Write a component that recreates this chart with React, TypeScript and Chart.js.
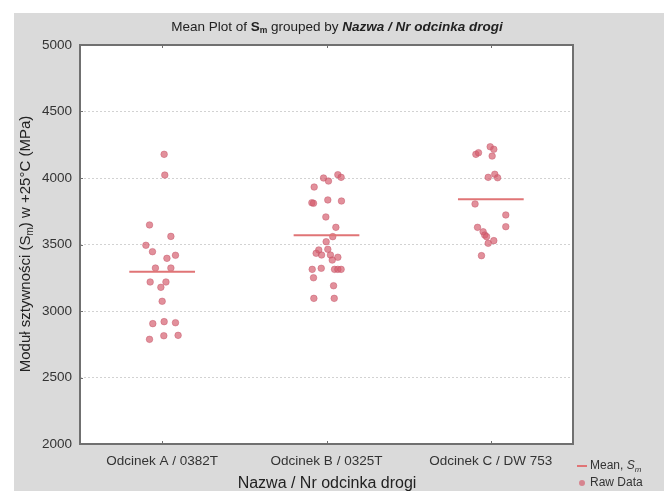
import { useEffect, useRef } from "react";
import { Chart, registerables } from "chart.js";

Chart.register(...registerables);

const categories = ["Odcinek A / 0382T", "Odcinek B / 0325T", "Odcinek C / DW 753"];
const yTickValues = [2000, 2500, 3000, 3500, 4000, 4500, 5000];
const meanValues = [3295, 3570, 3840];

const rawA = [4178, 4022, 3647, 3561, 3494, 3446, 3419, 3396, 3323, 3323, 3218, 3218, 3178, 3073, 2905, 2920, 2912, 2787, 2814, 2817];
const jitterA = [0.012, 0.016, -0.077, 0.053, -0.099, -0.059, 0.081, 0.029, -0.041, 0.053, -0.073, 0.023, -0.008, 0, -0.057, 0.012, 0.081, -0.077, 0.01, 0.097];

const rawB = [4000, 3977, 4025, 4005, 3932, 3814, 3810, 3835, 3827, 3707, 3629, 3559, 3521, 3459, 3434, 3421, 3464, 3421, 3383, 3404, 3313, 3321, 3313, 3313, 3313, 3250, 3190, 3095, 3095];
const jitterB = [-0.018, 0.012, 0.069, 0.089, -0.075, -0.089, -0.079, 0.008, 0.091, -0.004, 0.057, 0.038, -0.002, -0.047, -0.063, -0.03, 0.008, 0.024, 0.035, 0.069, -0.087, -0.032, 0.049, 0.069, 0.089, -0.079, 0.043, -0.077, 0.047];

const rawC = [4178, 4190, 4235, 4216, 4165, 4005, 4028, 4002, 3805, 3722, 3634, 3629, 3596, 3571, 3559, 3529, 3509, 3416];
const jitterC = [-0.091, -0.075, -0.004, 0.018, 0.008, -0.016, 0.024, 0.041, -0.096, 0.091, 0.091, -0.081, -0.047, -0.037, -0.026, 0.018, -0.016, -0.057];

const FONT = "'Liberation Sans', Arial, sans-serif";
const POINT_FILL = "rgba(212, 92, 108, 0.68)";
const POINT_BORDER = "rgba(195, 85, 105, 0.45)";
const MEAN_COLOR = "#e07476";

function drawRich(ctx: CanvasRenderingContext2D, parts: { t: string; f: string; sub?: number }[], cx: number, cy: number) {
  let total = 0;
  for (const p of parts) {
    ctx.font = p.f;
    total += ctx.measureText(p.t).width;
  }
  let x = cx - total / 2;
  ctx.textAlign = "left";
  ctx.textBaseline = "middle";
  for (const p of parts) {
    ctx.font = p.f;
    ctx.fillText(p.t, x, cy + (p.sub || 0));
    x += ctx.measureText(p.t).width;
  }
}

const decorPlugin = {
  id: "decor",
  beforeDraw(chart: any) {
    const { ctx, chartArea: a, width, height } = chart;
    ctx.save();
    ctx.fillStyle = "#ffffff";
    ctx.fillRect(0, 0, width, height);
    ctx.fillStyle = "#dadada";
    ctx.fillRect(14, 13, width - 14, height - 13);
    ctx.fillStyle = "#ffffff";
    ctx.fillRect(a.left, a.top, a.right - a.left, a.bottom - a.top);
    ctx.restore();
  },
  afterDraw(chart: any) {
    const { ctx, chartArea: a } = chart;
    const xs = chart.scales.x;
    const ys = chart.scales.y;
    ctx.save();
    ctx.strokeStyle = "#707070";
    ctx.lineWidth = 2;
    ctx.strokeRect(a.left, a.top, a.right - a.left, a.bottom - a.top);
    ctx.lineWidth = 1;
    ctx.strokeStyle = "#707070";
    categories.forEach((_, i) => {
      const px = Math.round(xs.getPixelForValue(i)) + 0.5;
      ctx.beginPath();
      ctx.moveTo(px, a.bottom);
      ctx.lineTo(px, a.bottom - 3);
      ctx.moveTo(px, a.top);
      ctx.lineTo(px, a.top + 3);
      ctx.stroke();
    });
    yTickValues.forEach((v) => {
      const py = Math.round(ys.getPixelForValue(v)) + 0.5;
      ctx.beginPath();
      ctx.moveTo(a.left, py);
      ctx.lineTo(a.left + 3, py);
      ctx.stroke();
    });
    ctx.fillStyle = "#222";
    drawRich(
      ctx,
      [
        { t: "Mean Plot of ", f: `13.5px ${FONT}` },
        { t: "S", f: `bold 13.5px ${FONT}` },
        { t: "m", f: `bold 8.5px ${FONT}`, sub: 4 },
        { t: " grouped by ", f: `13.5px ${FONT}` },
        { t: "Nazwa / Nr odcinka drogi", f: `italic bold 13.5px ${FONT}` },
      ],
      337,
      27
    );
    ctx.fillStyle = "#222";
    drawRich(ctx, [{ t: "Nazwa / Nr odcinka drogi", f: `16px ${FONT}` }], 327, 484);
    ctx.save();
    ctx.translate(26, 244);
    ctx.rotate(-Math.PI / 2);
    drawRich(
      ctx,
      [
        { t: "Moduł sztywności (S", f: `15px ${FONT}` },
        { t: "m", f: `10px ${FONT}`, sub: 4 },
        { t: ") w +25°C (MPa)", f: `15px ${FONT}` },
      ],
      0,
      0
    );
    ctx.restore();
    ctx.strokeStyle = MEAN_COLOR;
    ctx.lineWidth = 2;
    ctx.beginPath();
    ctx.moveTo(577, 466);
    ctx.lineTo(587, 466);
    ctx.stroke();
    ctx.fillStyle = POINT_FILL;
    ctx.beginPath();
    ctx.arc(582, 483, 3, 0, Math.PI * 2);
    ctx.fill();
    ctx.fillStyle = "#333";
    ctx.textAlign = "left";
    ctx.textBaseline = "middle";
    ctx.font = `12px ${FONT}`;
    ctx.fillText("Mean, ", 590, 466);
    const w = ctx.measureText("Mean, ").width;
    ctx.font = `italic 12px ${FONT}`;
    ctx.fillText("S", 590 + w, 466);
    const w2 = ctx.measureText("S").width;
    ctx.font = `italic 8px ${FONT}`;
    ctx.fillText("m", 590 + w + w2, 470);
    ctx.font = `12px ${FONT}`;
    ctx.fillText("Raw Data", 590, 483);
    ctx.restore();
  },
};

export default function App() {
  const ref = useRef<HTMLCanvasElement>(null);
  useEffect(() => {
    if (!ref.current) return;
    const groups: [number[], number[]][] = [
      [rawA, jitterA],
      [rawB, jitterB],
      [rawC, jitterC],
    ];
    const points = groups.flatMap(([vals, jit], i) => vals.map((v, k) => ({ x: i + jit[k], y: v })));
    const meanSets = meanValues.map((m, i) => ({
      type: "line" as const,
      data: [
        { x: i - 0.2, y: m },
        { x: i + 0.2, y: m },
      ],
      borderColor: MEAN_COLOR,
      borderWidth: 2,
      pointRadius: 0,
      fill: false,
    }));
    const chart = new Chart(ref.current, {
      type: "scatter",
      data: {
        datasets: [
          ...meanSets,
          {
            type: "scatter" as const,
            data: points,
            backgroundColor: POINT_FILL,
            borderColor: POINT_BORDER,
            borderWidth: 1,
            pointRadius: 3.3,
          },
        ] as any,
      },
      plugins: [decorPlugin],
      options: {
        animation: false,
        responsive: false,
        devicePixelRatio: 1,
        layout: { padding: { left: 0, top: 45, right: 91, bottom: 0 } },
        plugins: { legend: { display: false }, title: { display: false }, tooltip: { enabled: false } },
        scales: {
          x: {
            type: "linear",
            min: -0.5,
            max: 2.5,
            afterFit: (s: any) => {
              s.height = 47;
            },
            afterBuildTicks: (s: any) => {
              s.ticks = categories.map((_, i) => ({ value: i }));
            },
            ticks: {
              padding: 9,
              color: "#333",
              font: { family: FONT, size: 13.5 },
              callback: (v: any) => categories[Math.round(Number(v))] ?? "",
            },
            grid: { display: false, drawTicks: false },
            border: { display: false },
          },
          y: {
            min: 2000,
            max: 5000,
            afterFit: (s: any) => {
              s.width = 80;
            },
            afterBuildTicks: (s: any) => {
              s.ticks = yTickValues.map((v) => ({ value: v }));
            },
            ticks: {
              padding: 8,
              color: "#333",
              font: { family: FONT, size: 13.5 },
              callback: (v: any) => String(v),
            },
            grid: {
              drawTicks: false,
              color: (c: any) => (c.tick && (c.tick.value === 2000 || c.tick.value === 5000) ? "rgba(0,0,0,0)" : "#d2d2d2"),
              lineWidth: 1,
            },
            border: { display: false, dash: [2, 2] },
          },
        },
      },
    });
    return () => chart.destroy();
  }, []);
  return (
    <div style={{ position: "fixed", left: 0, top: 0, width: 664, height: 491 }}>
      <canvas ref={ref} width={664} height={491} style={{ display: "block", width: 664, height: 491 }} />
    </div>
  );
}
